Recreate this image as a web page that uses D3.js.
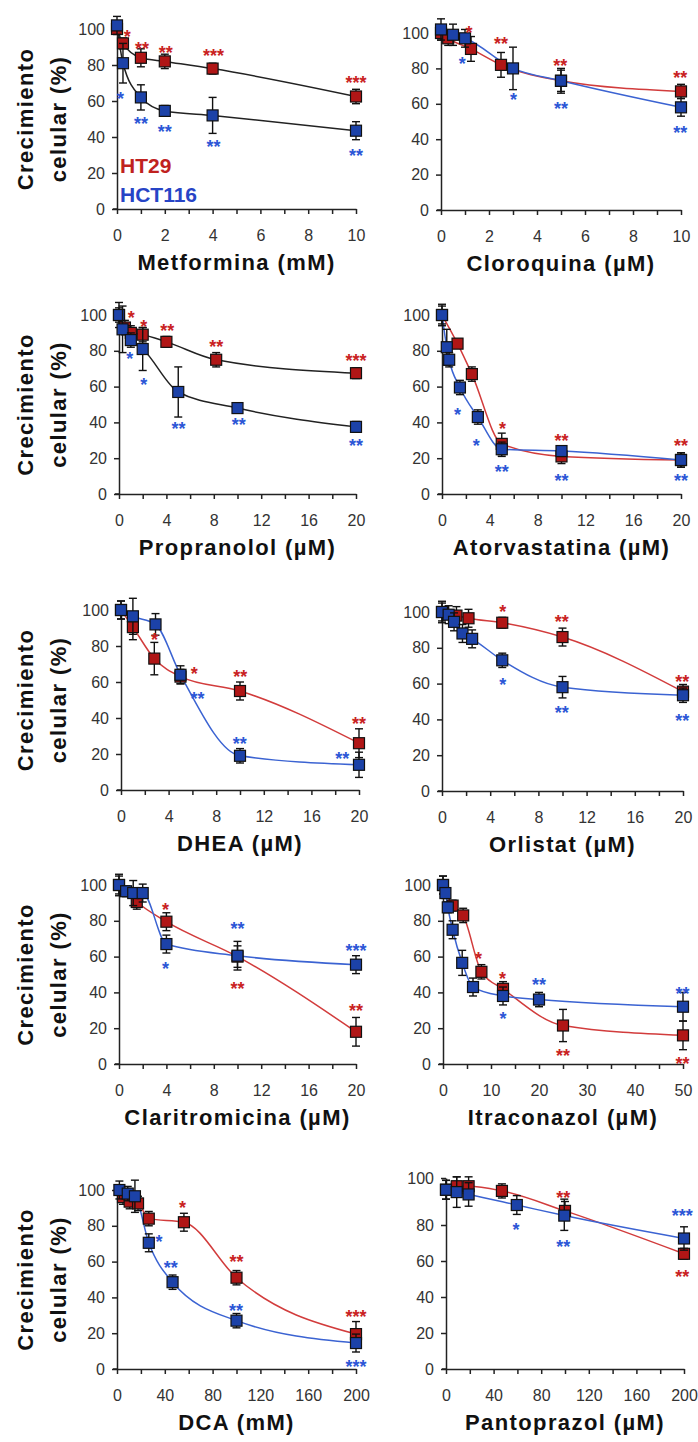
<!DOCTYPE html>
<html>
<head>
<meta charset="utf-8">
<script src="https://cdn.jsdelivr.net/npm/d3@7"></script>
<style>
  body { margin: 0; background: #fff; }
  svg text { font-family: "Liberation Sans", Arial, sans-serif; }
</style>
</head>
<body>
<div id="chart"></div>
<script>
// Tick labels
const ticksY = [0, 20, 40, 60, 80, 100];
const ticks10 = [0, 2, 4, 6, 8, 10];
const ticks20 = [0, 4, 8, 12, 16, 20];
const ticks50 = [0, 10, 20, 30, 40, 50];
const ticks200 = [0, 40, 80, 120, 160, 200];

// Data: [dose, growth %, error]
const metforminaHT29 = [[0, 100, 3], [0.25, 92, 3], [1, 84, 5], [2, 82, 4], [4, 78, 3], [10, 62.5, 4]];
const metforminaHCT116 = [[0, 102, 5], [0.25, 81, 11], [1, 62, 7], [2, 54.5, 3], [4, 52, 10], [10, 43.5, 5]];
const cloroquinaHT29 = [[0, 100, 4], [0.3, 97, 4], [1.25, 91, 7], [2.5, 82, 7], [5, 73, 7], [10, 67, 4]];
const cloroquinaHCT116 = [[0, 102, 6], [0.5, 99, 6], [1, 97, 5], [3, 80, 12], [5, 73, 6], [10, 58, 5]];
const propranololHT29 = [[0, 100, 4], [0.5, 93, 4], [1, 90, 4], [2, 89, 4], [4, 85, 3], [8.2, 75, 4], [20, 67.5, 3]];
const propranololHCT116 = [[0, 100, 7], [0.3, 92, 13], [1, 86, 4], [2, 81, 12], [5, 57, 14], [10, 48, 2], [20, 37.5, 3]];
const atorvastatinaHT29 = [[0, 100, 5], [1.3, 84, 2], [2.5, 67, 4], [5, 28, 6], [10, 21, 4], [20, 19, 4]];
const atorvastatinaHCT116 = [[0, 100, 6], [0.4, 82, 10], [0.6, 75, 4], [1.5, 59.5, 4], [3, 43, 4], [5, 25, 4], [10, 24, 3], [20, 19, 4]];
const dheaHT29 = [[0, 100, 5], [1, 90.5, 7], [2.8, 73, 9], [5, 63, 4], [10, 55, 5], [20, 26, 8]];
const dheaHCT116 = [[0, 100, 5], [1, 96.5, 10], [2.9, 92, 6], [5, 64, 5], [10, 19, 4], [20, 14, 7]];
const orlistatHT29 = [[0, 100, 5], [1.2, 98, 5], [2.2, 96.5, 5], [5, 94, 3], [10, 86, 5], [20, 55.5, 4]];
const orlistatHCT116 = [[0, 100, 6], [0.55, 98.5, 5], [1, 94.5, 5], [1.7, 88, 5], [2.5, 85, 5], [5, 73, 4], [10, 58, 6], [20, 53.5, 4]];
const claritromicinaHT29 = [[0, 100, 5], [1.5, 90.5, 4], [4, 79.5, 5], [10, 60, 6], [20, 18, 8]];
const claritromicinaHCT116 = [[0, 100, 6], [0.6, 96.5, 3], [1.2, 95.5, 7], [2, 95.5, 5], [4, 67, 5], [10, 60.5, 8], [20, 55.5, 5]];
const itraconazolHT29 = [[0, 100, 5], [2, 88.5, 3], [4.2, 83, 4], [8, 51.5, 4], [12.5, 42, 4], [25, 21.5, 9], [50, 16, 8]];
const itraconazolHCT116 = [[0, 100, 5], [0.5, 95.5, 3], [1, 87.5, 3], [2, 75, 5], [4, 56.5, 7], [6.25, 43, 5], [12.5, 38, 5], [20, 36, 4], [50, 32, 8]];
const dcaHT29 = [[5, 96, 4], [10.6, 93.5, 4], [17.6, 92.5, 4], [26.6, 84, 4], [56, 82, 5], [100, 51, 4], [200, 19.5, 7]];
const dcaHCT116 = [[2, 100, 5], [9, 98, 4], [15, 96.5, 9], [26.6, 70.5, 5], [46.5, 48.5, 4], [100, 27, 4], [200, 14.5, 5]];
const pantoprazolHT29 = [[0, 95, 4], [9, 96.5, 4], [19, 96.5, 4], [47, 94.5, 3], [100, 86, 4], [200, 64, 3]];
const pantoprazolHCT116 = [[0, 95, 4], [9, 94, 6.5], [19, 93, 5], [59.5, 88.5, 4], [99.4, 84, 7], [200, 72.5, 6.5]];

// Significance marks: [dose, level, text, line] (r = HT29, b = HCT116)
const metforminaStars = [[0.43, 98.3, "*", "r"], [1.05, 91.5, "**", "r"], [2.04, 89.4, "**", "r"], [4.04, 87.6, "***", "r"], [10, 72.6, "***", "r"],
  [0.15, 63.5, "*", "b"], [1, 50, "**", "b"], [2, 45.5, "**", "b"], [4.04, 37, "**", "b"], [10, 31.8, "**", "b"]];
const cloroquinaStars = [[1.17, 102.8, "*", "r"], [2.5, 96.2, "**", "r"], [4.97, 84, "**", "r"], [9.97, 77.4, "**", "r"],
  [0.89, 84.9, "*", "b"], [3.02, 64.5, "*", "b"], [5, 59.8, "**", "b"], [9.97, 45.8, "**", "b"]];
const propranololStars = [[1.04, 100.9, "*", "r"], [2.08, 95.7, "*", "r"], [4.07, 93.5, "**", "r"], [8.2, 84.8, "**", "r"], [20, 76.7, "***", "r"],
  [0.9, 77.7, "*", "b"], [2.08, 63.4, "*", "b"], [5.03, 38.7, "**", "b"], [10.1, 41.1, "**", "b"], [20, 29.2, "**", "b"]];
const atorvastatinaStars = [[5.07, 38.7, "*", "r"], [10, 32.2, "**", "r"], [20, 29.4, "**", "r"],
  [1.3, 46.5, "*", "b"], [2.87, 29.4, "*", "b"], [5, 14.9, "**", "b"], [10, 9.5, "**", "b"], [20, 9.5, "**", "b"]];
const dheaStars = [[2.81, 85.6, "*", "r"], [6.16, 67, "*", "r"], [10.03, 65.2, "**", "r"], [20, 38.9, "**", "r"],
  [6.43, 52.8, "**", "b"], [9.97, 27.8, "**", "b"], [18.6, 19.8, "**", "b"]];
const orlistatStars = [[5.05, 102.4, "*", "r"], [9.93, 96.7, "**", "r"], [19.94, 63.2, "**", "r"],
  [5.05, 61.9, "*", "b"], [9.93, 46.1, "**", "b"], [19.94, 41.8, "**", "b"]];
const claritromicinaStars = [[3.92, 88.8, "*", "r"], [10, 44.2, "**", "r"], [20, 32, "**", "r"],
  [3.92, 55.4, "*", "b"], [10, 77.7, "**", "b"], [20, 65.5, "***", "b"]];
const itraconazolStars = [[7.4, 61, "*", "r"], [12.4, 49.8, "*", "r"], [25, 7.1, "**", "r"], [49.9, 2.4, "**", "r"],
  [12.5, 27.5, "*", "b"], [20, 46.5, "**", "b"], [49.9, 41.8, "**", "b"]];
const dcaStars = [[54.8, 92.6, "*", "r"], [100, 62.3, "**", "r"], [200, 31.7, "***", "r"],
  [35.2, 73.4, "*", "b"], [45, 58.7, "**", "b"], [99.6, 34.9, "**", "b"], [200, 3.5, "***", "b"]];
const pantoprazolStars = [[98.6, 93.5, "**", "r"], [198.6, 53.5, "**", "r"],
  [58.9, 80, "*", "b"], [98.6, 70.2, "**", "b"], [198.6, 85.7, "***", "b"]];

// Colours
const redFill = "#b01616", blueFill = "#1c42a8";
const redLine = "#d23c3c", blueLine = "#3b63d2";
const redStar = "#c92222", blueStar = "#2c56d6";

// Panel layout (pixel boxes of each plot)
const panels = [
  { title: "Metformina (mM)", ht: metforminaHT29, hct: metforminaHCT116, stars: metforminaStars, ticks: ticks10, black: true, x0: 117, x1: 356, yRange: [209, 29], left: true, legend: true },
  { title: "Cloroquina (\u00b5M)", ht: cloroquinaHT29, hct: cloroquinaHCT116, stars: cloroquinaStars, ticks: ticks10, x0: 441, x1: 681, yRange: [210, 33] },
  { title: "Propranolol (\u00b5M)", ht: propranololHT29, hct: propranololHCT116, stars: propranololStars, ticks: ticks20, black: true, x0: 119, x1: 356, yRange: [494, 315], left: true },
  { title: "Atorvastatina (\u00b5M)", ht: atorvastatinaHT29, hct: atorvastatinaHCT116, stars: atorvastatinaStars, ticks: ticks20, x0: 442, x1: 681, yRange: [494, 315] },
  { title: "DHEA (\u00b5M)", ht: dheaHT29, hct: dheaHCT116, stars: dheaStars, ticks: ticks20, x0: 121, x1: 359, yRange: [790, 610], left: true },
  { title: "Orlistat (\u00b5M)", ht: orlistatHT29, hct: orlistatHCT116, stars: orlistatStars, ticks: ticks20, x0: 442, x1: 683, yRange: [791, 612] },
  { title: "Claritromicina (\u00b5M)", ht: claritromicinaHT29, hct: claritromicinaHCT116, stars: claritromicinaStars, ticks: ticks20, x0: 119, x1: 356, yRange: [1064, 885], left: true },
  { title: "Itraconazol (\u00b5M)", ht: itraconazolHT29, hct: itraconazolHCT116, stars: itraconazolStars, ticks: ticks50, x0: 443, x1: 683, yRange: [1064, 885] },
  { title: "DCA (mM)", ht: dcaHT29, hct: dcaHCT116, stars: dcaStars, ticks: ticks200, x0: 117, x1: 356, yRange: [1369, 1190], left: true },
  // this one has a stretched top segment on the original axis
  { title: "Pantoprazol (\u00b5M)", ht: pantoprazolHT29, hct: pantoprazolHCT116, stars: pantoprazolStars, ticks: ticks200, x0: 446, x1: 684, yDomain: [0, 80, 100], yRange: [1369, 1225, 1178] }
];

let width = 698;
let height = 1442;

let svg = d3.select("#chart")
  .append("svg")
  .attr("width", width)
  .attr("height", height);

panels.forEach(drawPanel);

function drawPanel(p) {
  let xMax = p.ticks[p.ticks.length - 1];
  let step = p.ticks[1] - p.ticks[0];
  let xScale = d3.scaleLinear().domain([0, xMax]).range([p.x0, p.x1]);
  let yScale = d3.scaleLinear().domain(p.yDomain || [0, 100]).range(p.yRange);
  let yBot = p.yRange[0];

  let g = svg.append("g");

  // y axis
  let yAxis = d3.axisLeft(yScale).tickValues(ticksY).tickSize(5).tickPadding(7).tickSizeOuter(0);
  let ya = g.append("g")
    .attr("transform", "translate(" + p.x0 + ",0)")
    .call(yAxis);

  // x axis with minor ticks at half steps
  let minor = d3.range(0, xMax + step / 4, step / 2);
  let xAxis = d3.axisBottom(xScale)
    .tickValues(minor)
    .tickSize(5)
    .tickPadding(15.5)
    .tickSizeOuter(0)
    .tickFormat(function(d) { return p.ticks.indexOf(d) >= 0 ? d : ""; });
  let xa = g.append("g")
    .attr("transform", "translate(0," + yBot + ")")
    .call(xAxis);

  // little stub left of the origin
  g.append("line")
    .attr("x1", p.x0 - 4).attr("x2", p.x0)
    .attr("y1", yBot).attr("y2", yBot)
    .attr("stroke", "#222").attr("stroke-width", 1.5);

  [ya, xa].forEach(function(a) {
    a.select(".domain").attr("stroke", "#222").attr("stroke-width", 1.5);
    a.selectAll(".tick line").attr("stroke", "#222").attr("stroke-width", 1.5);
    a.selectAll(".tick text")
      .attr("font-size", 16)
      .attr("fill", "#333")
      .style("font-family", "'Liberation Sans', Arial, sans-serif");
  });

  // x title
  g.append("text")
    .attr("x", (p.x0 + p.x1) / 2)
    .attr("y", yBot + 61)
    .attr("text-anchor", "middle")
    .attr("font-size", 22)
    .attr("font-weight", "bold")
    .attr("letter-spacing", "1.4px")
    .attr("fill", "#111")
    .text(p.title);

  // y title on the left column only
  if (p.left) {
    let cy = (p.yRange[0] + p.yRange[p.yRange.length - 1]) / 2;
    [["Crecimiento", 33], ["celular (%)", 66]].forEach(function(l) {
      g.append("text")
        .attr("transform", "translate(" + l[1] + "," + cy + ")rotate(-90)")
        .attr("text-anchor", "middle")
        .attr("font-size", 22)
        .attr("font-weight", "bold")
        .attr("letter-spacing", "1.4px")
        .attr("fill", "#111")
        .text(l[0]);
    });
  }

  // fitted curves
  let line = d3.line()
    .x(function(d) { return xScale(d[0]); })
    .y(function(d) { return yScale(d[1]); })
    .curve(d3.curveMonotoneX);

  g.append("path").datum(p.ht)
    .attr("d", line)
    .attr("fill", "none")
    .attr("stroke", p.black ? "#222" : redLine)
    .attr("stroke-width", 1.5);
  g.append("path").datum(p.hct)
    .attr("d", line)
    .attr("fill", "none")
    .attr("stroke", p.black ? "#222" : blueLine)
    .attr("stroke-width", 1.5);

  // points: HT29 first, HCT116 on top
  [[p.ht, redFill], [p.hct, blueFill]].forEach(function(s) {
    let pts = g.append("g").selectAll("g")
      .data(s[0])
      .enter()
      .append("g");

    pts.append("line")
      .attr("x1", function(d) { return xScale(d[0]); })
      .attr("x2", function(d) { return xScale(d[0]); })
      .attr("y1", function(d) { return yScale(d[1] - d[2]); })
      .attr("y2", function(d) { return yScale(d[1] + d[2]); })
      .attr("stroke", "#111").attr("stroke-width", 1.4);
    [-1, 1].forEach(function(sign) {
      pts.append("line")
        .attr("x1", function(d) { return xScale(d[0]) - 4; })
        .attr("x2", function(d) { return xScale(d[0]) + 4; })
        .attr("y1", function(d) { return yScale(d[1] + sign * d[2]); })
        .attr("y2", function(d) { return yScale(d[1] + sign * d[2]); })
        .attr("stroke", "#111").attr("stroke-width", 1.4);
    });

    pts.append("rect")
      .attr("x", function(d) { return xScale(d[0]) - 5.5; })
      .attr("y", function(d) { return yScale(d[1]) - 5.5; })
      .attr("width", 11)
      .attr("height", 11)
      .attr("fill", s[1])
      .attr("stroke", "#111")
      .attr("stroke-width", 1.2);
  });

  // significance stars
  g.append("g").selectAll("text")
    .data(p.stars)
    .enter()
    .append("text")
    .attr("x", function(d) { return xScale(d[0]); })
    .attr("y", function(d) { return yScale(d[1]) + 10.5; })
    .attr("text-anchor", "middle")
    .attr("font-size", 18)
    .attr("font-weight", "bold")
    .attr("fill", function(d) { return d[3] === "r" ? redStar : blueStar; })
    .text(function(d) { return d[2]; });

  // legend (first panel)
  if (p.legend) {
    g.append("text")
      .attr("x", 120).attr("y", 173)
      .attr("font-size", 21).attr("font-weight", "bold")
      .attr("fill", "#c0221e")
      .text("HT29");
    g.append("text")
      .attr("x", 120).attr("y", 202)
      .attr("font-size", 21).attr("font-weight", "bold")
      .attr("fill", "#2744c6")
      .text("HCT116");
  }
}
</script>
</body>
</html>
